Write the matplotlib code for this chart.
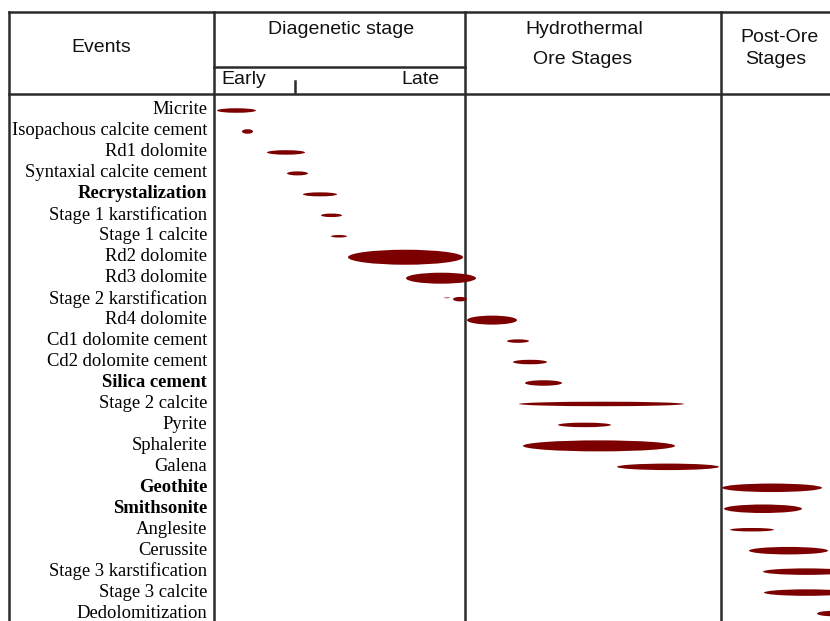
import matplotlib
matplotlib.use("Agg")
import matplotlib.pyplot as plt
from matplotlib.patches import Ellipse

# events, top to bottom
events = ["Micrite", "Isopachous calcite cement", "Rd1 dolomite",
          "Syntaxial calcite cement", "Recrystalization", "Stage 1 karstification",
          "Stage 1 calcite", "Rd2 dolomite", "Rd3 dolomite", "Stage 2 karstification",
          "Rd4 dolomite", "Cd1 dolomite cement", "Cd2 dolomite cement", "Silica cement",
          "Stage 2 calcite", "Pyrite", "Sphalerite", "Galena", "Geothite", "Smithsonite",
          "Anglesite", "Cerussite", "Stage 3 karstification", "Stage 3 calcite",
          "Dedolomitization"]
bold_events = ["Recrystalization", "Silica cement", "Geothite", "Smithsonite"]

# relative timing (chart x units) and band thickness
t_start = [217, 242, 267, 287, 303, 321, 331, 348, 406, 453, 467, 507, 513,
           525, 519, 558, 523, 617, 722, 724, 730, 749, 763, 764, 817]
t_end = [256, 253, 305, 308, 337, 342, 347, 463, 476, 467, 517, 529, 547,
         562, 684, 611, 675, 719, 822, 802, 774, 828, 850, 850, 850]
thick = [4.5, 4.5, 4.5, 4, 4, 3.5, 2.5, 15, 11, 4.5, 9, 3.5, 4.5, 5.5, 4.5,
         4.5, 11, 6.5, 8.5, 8.5, 3.5, 7.5, 6.5, 6.5, 5.5]

# faint minor occurrence
faint_event = "Stage 2 karstification"
faint_start, faint_end, faint_thick = 444, 450, 1.5

W, H = 830, 621
fig = plt.figure(figsize=(W / 100, H / 100), dpi=100)

# background axes in pixel units for the table frame + headers
bg = fig.add_axes([0, 0, 1, 1])
bg.set_xlim(0, W)
bg.set_ylim(H, 0)
bg.axis("off")

lc = "#2b2b2b"
lw = 1.8
bg.plot([9, W], [12, 12], color=lc, lw=lw)
bg.plot([9, W], [94, 94], color=lc, lw=lw)
bg.plot([214, 465], [67, 67], color=lc, lw=lw)
for xv in [9, 214, 465, 721]:
    bg.plot([xv, xv], [12, H], color=lc, lw=lw)
bg.plot([295, 295], [81, 92], color=lc, lw=1.8)

hfont = dict(family="Liberation Sans", fontsize=14, color="#111111")
bg.text(101, 47, "Events", ha="center", va="center", **hfont)
bg.text(341, 30, "Diagenetic stage", ha="center", va="center", **hfont)
bg.text(221, 80, "Early", ha="left", va="center", **hfont)
bg.text(439, 80, "Late", ha="right", va="center", **hfont)
bg.text(584, 30, "Hydrothermal", ha="center", va="center", **hfont)
bg.text(583, 60, "Ore Stages", ha="center", va="center", **hfont)
bg.text(779, 37, "Post-Ore", ha="center", va="center", **hfont)
bg.text(776, 60, "Stages", ha="center", va="center", **hfont)

# body axes
y0, step = 108, 20.96
ax = fig.add_axes([214 / W, 0, 1 - 214 / W, (H - 94) / H])
ax.set_xlim(214, W)
ax.set_ylim((H - y0) / step, (94 - y0) / step)
ax.patch.set_alpha(0)
for s in ax.spines.values():
    s.set_visible(False)
ax.set_xticks([])

rows = list(range(len(events)))
col = "#7d0000"
for i, a, b, h in zip(rows, t_start, t_end, thick):
    ax.add_patch(Ellipse(((a + b) / 2, i + 0.12), b - a, h / step,
                         facecolor=col, edgecolor="none"))
fi = events.index(faint_event)
ax.add_patch(Ellipse(((faint_start + faint_end) / 2, fi + 0.05),
                     faint_end - faint_start, faint_thick / step,
                     facecolor="#c08080", edgecolor="none"))

ax.set_yticks(rows)
ax.set_yticklabels(events, family="Liberation Serif", fontsize=13.4)
for lab in ax.get_yticklabels():
    if lab.get_text() in bold_events:
        lab.set_fontweight("bold")
ax.tick_params(axis="y", length=0, pad=5)

fig.savefig("out.png", dpi=100)
